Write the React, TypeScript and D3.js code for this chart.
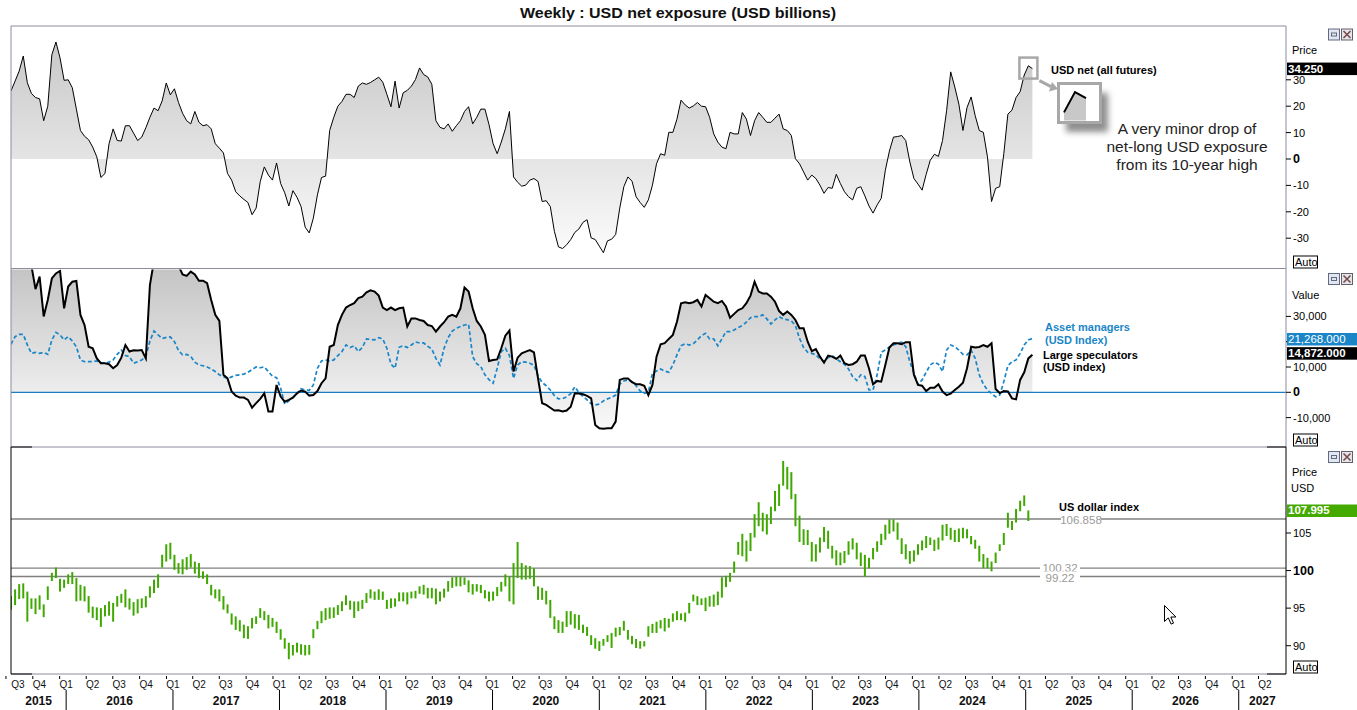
import React from 'react';
import * as d3 from 'd3';

// Bi-weekly observations, first one on 26 Jun 2015
const startDate = new Date(2015, 5, 26);
const endDate = new Date(2027, 5, 12);
const stepDays = 14;

// USD net exposure, all futures (USD billions)
const netFutures = [
  25.8, 29.5, 33.3, 39, 28.9, 24.8, 23.3, 22.8, 14.5, 20,
  39.5, 44.3, 38.3, 29.8, 30, 27, 18.9, 10.8, 8.6, 7.3,
  4.5, 0.8, -7, -5.5, 5.8, 11.4, 7, 6.8, 12.6, 12.6,
  9.8, 7, 8.3, 11.8, 15.8, 19.3, 18.3, 22, 28.8, 24.3,
  26.6, 21.4, 17.3, 14.5, 13.3, 18, 13.9, 12.6, 13, 11.4,
  5.8, 4.1, 2.3, -5.5, -8, -12.4, -14, -15.3, -16.5, -21.1,
  -18.6, -8.6, -3, -6.1, -8, -1.5, -9.3, -12.8, -17.8, -12,
  -14.5, -18, -25.8, -28, -22.4, -13.6, -7, -6.5, 10.8, 15.8,
  20, 21.8, 24.5, 24.5, 23.3, 27.6, 28.8, 28.3, 29, 30,
  31, 29.1, 24.5, 19.8, 29.5, 19.3, 25.1, 26, 27.6, 30.1,
  34.5, 32, 31.1, 28.3, 14.5, 12, 11.4, 13.3, 10.5, 12.6,
  14.5, 18, 19.8, 13.3, 15.8, 18.9, 18.9, 13, 5.8, 2,
  6.4, 11.4, 18, -6.8, -8.8, -10.3, -9.9, -8, -7.4, -8.5,
  -16.1, -15.8, -18, -27.4, -33.3, -33.9, -32.5, -30.5, -27.8, -26.5,
  -24, -23, -29.9, -30.5, -33, -35.5, -31, -30.4, -28.6, -18.6,
  -10.5, -6.8, -8.4, -14.3, -16.5, -18.3, -15.5, -9.9, -1.8, 2,
  1.4, 10.1, 10.1, 15.1, 22.3, 20.5, 19.3, 20.1, 21.4, 20,
  19.8, 15.8, 9.5, 6.4, 4.5, 3.9, 10.1, 9.5, 9.5, 17.6,
  15.1, 8.9, 14.5, 17.6, 15.8, 13.9, 13.9, 15.5, 17, 11.4,
  10.8, 8.9, 0.1, -1.8, -4.9, -8, -6.1, -7.4, -9.9, -13,
  -10.8, -11.1, -5.8, -9.3, -12.4, -14.3, -15.5, -11.1, -10.5, -14,
  -17.8, -20.5, -17.4, -14.9, -4.3, 3, 8.3, 8.5, 8.9, 7,
  -1.1, -7.4, -9.5, -11.8, -5.8, -0.5, 1.8, 1, 7, 18.3,
  33, 27.3, 20.8, 10.8, 19.5, 23.5, 16.4, 10.8, 10.1, 0.8,
  -16.1, -11.1, -10.5, 2, 17, 18.5, 23.3, 25.5, 31.8, 35.3,
  34.25,
];

// Large speculators, USD index futures (thousand contracts)
const largeSpecs = [
  52, 55, 58, 55, 50, 50, 40.8, 45.7, 30, 36.5,
  45, 47, 48, 33.2, 41.8, 43.7, 44, 30.6, 26.6, 18,
  17.4, 13.4, 11.5, 11.5, 11.1, 9.5, 10.8, 13.7, 18.7, 16.1,
  16.6, 16.5, 16.7, 13.4, 42.4, 52, 55, 58, 60, 58,
  55, 50, 46.6, 46, 47.7, 46.6, 44.1, 44.1, 43.1, 36.5,
  30.6, 28.2, 6.9, 5.5, 0.3, -1.3, -2.1, -2.1, -3, -6.1,
  -4.3, -2.6, -0.4, -7.6, -7.6, 2.9, -1.7, -3.7, -3, -2.1,
  -0.4, 0.7, 0.3, -1.3, -1.1, 0.5, 3.6, 5.5, 18, 18.7,
  26.6, 30.6, 33.5, 34.5, 35.2, 37.2, 37.8, 39.5, 40.3, 39.8,
  38.2, 33.5, 32.5, 33.5, 32.5, 33.2, 33.5, 26, 29.2, 29.2,
  28.6, 28.2, 26.6, 26.2, 24, 26, 27.7, 29.9, 30.6, 29.9,
  33.2, 41.4, 39.8, 33.2, 28.2, 26, 22.7, 12.4, 12.8, 13,
  17.4, 22.4, 24.4, 8.2, 13.7, 15.4, 16.1, 16.7, 15.8, 5.5,
  -4.3, -5, -6.1, -7.2, -7.1, -7.6, -7.2, -5.7, -0.4, -0.5,
  -0.8, -1.4, -2.4, -12.9, -14.2, -14.4, -14.2, -14.2, -11.6, 4.9,
  5.5, 5.5, 4, 3.2, 3.2, 2.6, -1.1, 2.9, 14.1, 19,
  19.4, 21.1, 22.7, 27.9, 35.2, 35.6, 35.2, 35.6, 36.5, 33.9,
  38.5, 37.2, 35.8, 35.2, 36.1, 33.9, 29.5, 31, 32.5, 33.2,
  35.2, 38.2, 43.7, 39.8, 39.1, 39.1, 37.8, 35.8, 32.1, 30.6,
  31.9, 30.6, 28.6, 25.3, 25.3, 20, 16.3, 17.1, 14.1, 11.7,
  14.5, 14.1, 13.2, 14.5, 11.5, 10.8, 11.1, 12.1, 14.5, 14.5,
  9.5, 3.2, 4.5, 4.2, 10.8, 17.7, 19.4, 19.4, 19, 19.8,
  19.8, 6.9, 2.9, 2.6, 0.5, 1.8, 1.8, 3.2, 0.3, -1.1,
  -0.5, 0.9, 2.2, 3.8, 9.5, 18, 17.7, 17.9, 18.7, 18,
  19.4, 1.3, -0.3, 0.5, 0.3, -2.4, -2.8, 4.9, 7.9, 13.4,
  14.872,
];

// Asset managers, USD index futures (thousand contracts)
const assetManagers = [
  19, 22, 22.9, 22.9, 18.7, 15.4, 15.8, 15.4, 15.8, 15,
  20.7, 23.7, 22.7, 20.7, 22, 20.3, 18, 12.8, 12.1, 12.1,
  12.1, 12.4, 11.7, 11.5, 11.9, 12.8, 15, 16.7, 14.5, 14.1,
  11.5, 12.1, 12.8, 14.1, 20.3, 24.2, 22.7, 21.3, 21.7, 21.9,
  20, 16.5, 14.8, 15, 14.1, 11.9, 10.8, 10.5, 10, 9.2,
  8.2, 6.9, 6.2, 5.5, 6.1, 6.7, 6.9, 7.2, 7.9, 9,
  10, 9.7, 10, 8.2, 6.3, 5.8, 1.6, -4.7, -3.4, -2,
  -0.4, 1.4, 0.9, 0.8, 2.9, 9.5, 12.4, 12.8, 12.3, 12.8,
  14.5, 16.1, 18.7, 17.7, 18.4, 16.1, 17.7, 21.1, 20.9, 20.7,
  21.6, 21.1, 17.4, 11.1, 9.5, 17.8, 18.4, 17.7, 18.7, 19.9,
  19.5, 19.5, 18.2, 17.1, 13.4, 10.8, 17.4, 21.6, 24.2, 25.3,
  26, 26.6, 26.9, 14.1, 11.3, 10.1, 6.9, 5, 3.6, 9.5,
  16.1, 17.4, 14.5, 5.5, 10.8, 12.1, 11.9, 11.5, 10.7, 6.5,
  3.9, 2.6, 0.9, -1.3, -2.6, -2.5, -1.8, -0.5, 2.2, -0.1,
  -1.6, -3, -4.5, -5, -4.7, -3.4, -2.6, -2, -1.1, 3.2,
  4.5, 4.9, 4.2, 2.6, 0.5, -0.4, 0, 7.5, 8.4, 9.2,
  8.4, 7.9, 10.8, 14.8, 18.4, 19.2, 18.7, 19.2, 20.7, 22.4,
  23.3, 21.1, 21.1, 18.4, 21.1, 24, 24, 24.6, 25.6, 26.4,
  27.7, 29.5, 29.9, 29.9, 30.6, 29, 27, 28.6, 29.9, 29,
  28.7, 28.2, 26.4, 21.3, 17.7, 15.8, 15.4, 14.8, 13.2, 12.3,
  13.7, 14.5, 13.2, 12.1, 11.1, 9.2, 6.2, 4.7, 6.9, 6.2,
  0.9, 0.9, 6.9, 15.8, 16.7, 17.9, 18.7, 19.4, 19.8, 18,
  12.1, 7.5, 3.2, 4.9, 7.9, 10.8, 11.9, 11.1, 8.2, 16.7,
  18.7, 18, 16.7, 15, 14.8, 16.7, 13.4, 6.9, 3.2, 0.9,
  -0.5, -1.8, -1.1, 4.2, 10.5, 12.1, 12.8, 15.4, 18.7, 20.7,
  21.268,
];

// US dollar index, bi-weekly high / low
const dxyHigh = [
  96.6, 97.5, 98.2, 98.3, 97.2, 96.3, 96.3, 96.7, 95.5, 97.9,
  99.7, 100.4, 98.9, 98.8, 99.5, 99.8, 99, 98.1, 97.9, 96.6,
  95.2, 95.1, 95, 95.4, 95.9, 95.7, 96.6, 96.9, 97.5, 96.3,
  95.8, 96.2, 96.3, 96.6, 97.9, 98.8, 99.5, 102.1, 103.5, 103.7,
  102.1, 101, 101.5, 101.8, 102.2, 101.2, 101, 99.9, 99.5, 98.1,
  97.5, 97.5, 96.6, 95.5, 94.3, 93.9, 93.4, 92.8, 92.6, 93.7,
  93.9, 95, 94.6, 94.1, 93.7, 93.2, 92.2, 91, 90.4, 90.1,
  90.4, 90.2, 90.1, 90.1, 92.2, 93.3, 94.6, 95, 95.1, 95.1,
  95.4, 95.9, 96.7, 96, 95.9, 95.9, 96.1, 97, 97.5, 97.2,
  97.5, 97.2, 96.1, 96.3, 96.3, 97.1, 97.1, 97.1, 97.2, 97.3,
  97.9, 98.1, 97.7, 97.7, 97.6, 97.2, 97.6, 98.6, 99.1, 99.2,
  99.2, 99.1, 98.7, 98.2, 98.2, 98.1, 97.4, 97.2, 97.2, 97.8,
  98.5, 99.5, 99.2, 101, 103.8, 101, 100.7, 100.6, 100.3, 97.9,
  97.7, 97.3, 96.1, 93.9, 93.4, 93.2, 94.6, 94.6, 94.2, 94.1,
  92.8, 92.5, 91.4, 91, 90.6, 90.9, 91.4, 91.7, 92.4, 92.5,
  93.3, 92.1, 91.3, 90.9, 90.6, 90.6, 92.6, 92.9, 93.2, 93.4,
  93.7, 93.6, 94.3, 94.6, 94.3, 94.4, 95.7, 96.8, 96.6, 96.3,
  96.4, 96.6, 96.8, 97.2, 99.1, 99.3, 99.7, 101.2, 103.8, 104.9,
  104, 105, 107.5, 109.1, 107.7, 107.5, 108.5, 110.6, 111.5, 114.6,
  113.8, 113.1, 110.2, 107.3, 105.5, 105.4, 103.8, 103.5, 104.4, 105.8,
  105.3, 103.3, 102.7, 102.4, 102.6, 103.9, 104.3, 103.7, 102.4, 102.1,
  101.7, 103, 103.9, 104.9, 106.1, 106.8, 106.8, 106.4, 104.3, 103.5,
  102.6, 102.7, 103.5, 104, 104.6, 104.4, 104.1, 104.4, 106.1, 106.2,
  105.7, 105.4, 105.6, 105.7, 105.5, 104.6, 104.1, 103.3, 102.2, 101.7,
  101.2, 102.4, 103.5, 105, 107.7, 106.6, 108.2, 109.3, 110, 108,
];

const dxyLow = [
  94.8, 95.4, 96.2, 96.3, 93.2, 94.9, 94.2, 94.8, 93.8, 96.1,
  98.6, 99, 97.2, 97.7, 98.2, 98.2, 95.9, 96, 95.9, 94.4,
  93.7, 93.4, 92.5, 93.9, 94, 93.2, 95.2, 95.7, 95.1, 94.8,
  94, 94.3, 95, 95.1, 96.4, 97, 97.7, 100.4, 101.2, 101.5,
  100.1, 99.6, 99.5, 100.1, 100.4, 99.6, 99, 98.9, 98.2, 96.7,
  96.3, 95.9, 94.8, 94.3, 92.8, 92.1, 91.9, 91, 90.9, 92.3,
  92.9, 93.7, 93.4, 92.3, 92.5, 91.7, 90.8, 89.6, 88.2, 88.7,
  89.1, 88.8, 88.7, 88.8, 91, 92.2, 93, 93.4, 93.6, 93.7,
  94.1, 94.6, 95.4, 94.8, 93.7, 94.6, 94.9, 95.7, 96.3, 96.1,
  96.1, 96.1, 94.9, 95, 95.2, 95.9, 95.9, 95.5, 96.3, 96.3,
  96.9, 96.8, 96.3, 96.3, 95.5, 95.9, 96.4, 97.2, 97.7, 97.9,
  97.9, 98.1, 97.1, 96.8, 97.2, 97, 96.3, 95.9, 96, 96.6,
  97.2, 97.9, 95.9, 95.5, 99, 98.8, 98.8, 98.9, 97.9, 96.1,
  96.1, 95.5, 93.7, 92.2, 91.7, 91.7, 92.5, 92.8, 92.3, 92.1,
  91.7, 91.3, 90.1, 89.6, 89.3, 90, 90.5, 89.7, 91.2, 91.4,
  92, 90.8, 90.2, 89.7, 89.6, 89.9, 91.2, 91.7, 91.7, 92.3,
  91.9, 92.4, 93.2, 93.4, 93.4, 93.2, 94.3, 95.9, 95.4, 95.4,
  94.6, 95.2, 95.2, 95.4, 96.4, 97.8, 98.5, 99.7, 102.1, 101.9,
  101.2, 102.6, 104.4, 105.9, 105.2, 104.8, 106.2, 107.9, 108.6, 111.3,
  110.8, 109.5, 105.9, 103.8, 103.4, 103.4, 101.2, 101.2, 102.4, 103.8,
  102.9, 101.6, 100.7, 100.7, 101, 102.1, 102.8, 101.5, 100.6, 99.2,
  100.3, 101.5, 102.5, 103.4, 104.1, 104.9, 105.2, 104.1, 102.2, 101.5,
  100.9, 101.2, 102.1, 102.7, 103, 103.4, 102.6, 102.8, 104, 104.6,
  104.1, 103.8, 103.8, 104.3, 104.3, 103.5, 102.9, 101.2, 100.3, 100.3,
  99.9, 101, 102.6, 103.4, 105.7, 105.4, 106.4, 107.9, 108.6, 106.6,
];

const dxyLast = 107.995;
const dxyLevels = [106.858, 100.32, 99.22];

const years = [2015, 2016, 2017, 2018, 2019, 2020, 2021, 2022, 2023, 2024, 2025, 2026, 2027];
const quarterNames = ['Q1', 'Q2', 'Q3', 'Q4'];
const netTicks = [30, 20, 10, 0, -10, -20, -30];
const cotTicks = [30, 20, 10, 0, -10];
const dxyTicks = [105, 100, 95, 90];

const W = 1357;
const H = 710;
const LEFT = 11;
const RIGHT = 1286;
const P1 = { top: 26, bottom: 268.5 };
const P2 = { top: 268.5, bottom: 447 };
const P3 = { top: 447, bottom: 674 };

const FONT = "'Liberation Sans', Arial, sans-serif";
const FRAME = '#8c8ca0';
const BLUE = '#1a86c8';
const GREEN = '#3fa800';

const dateAt = (i: number) => d3.timeDay.offset(startDate, i * stepDays);

const x = d3.scaleTime().domain([startDate, endDate]).range([LEFT, RIGHT]);
const yNet = d3.scaleLinear().domain([-30, 30]).range([238.2, 79.8]);
const yCot = d3.scaleLinear().domain([-10, 30]).range([417.6, 316.4]);
const yDxy = d3.scaleLinear().domain([90, 105]).range([645.7, 533.0]);

const fmtCot = (v: number) => d3.format(',')(v * 1000).replace('\u2212', '-');
const fmtBox = (v: number) => d3.format(',.3f')(v);

const PanelIcons: React.FC<{ y: number }> = ({ y }) => (
  <g>
    <rect x={1328.5} y={y + 0.5} width={11} height={11} fill="#e4e6ee" stroke="#5e6a86" />
    <rect x={1331.5} y={y + 4.5} width={5} height={3} fill="none" stroke="#5e6a86" />
    <rect x={1341.5} y={y + 0.5} width={11} height={11} fill="#e4e6ee" stroke="#6a5e66" />
    <path d={`M1343.5,${y + 2.5} L1350.5,${y + 9.5} M1350.5,${y + 2.5} L1343.5,${y + 9.5}`} stroke="#7a4a4a" strokeWidth={1.6} />
  </g>
);

const AutoBox: React.FC<{ y: number }> = ({ y }) => (
  <g>
    <rect x={1293.5} y={y + 0.5} width={24} height={12} fill="#fff" stroke="#000" />
    <text x={1295} y={y + 10.5} fontSize={11} fontFamily={FONT} fill="#000">Auto</text>
  </g>
);

const ValueBox: React.FC<{ y: number; fill: string; label: string; bold?: boolean }> = ({ y, fill, label, bold }) => (
  <g>
    <rect x={1287} y={y - 6} width={W - 1287} height={12.5} fill={fill} />
    <text x={1288} y={y + 4} fontSize={11.5} fontWeight={bold ? 'bold' : 'normal'} fontFamily={FONT} fill="#fff">{label}</text>
  </g>
);

const App: React.FC = () => {
  const lineNet = d3.line<number>().x((_, i) => x(dateAt(i))).y(d => yNet(d));
  const areaNet = d3.area<number>().x((_, i) => x(dateAt(i))).y0(yNet(0)).y1(d => yNet(d));
  const lineCot = d3.line<number>().x((_, i) => x(dateAt(i))).y(d => yCot(d));
  const areaCot = d3.area<number>().x((_, i) => x(dateAt(i))).y0(yCot(0)).y1(d => yCot(d));

  // quarter starts across the visible time range
  const quarters: { d: Date; q: number }[] = [];
  years.forEach(yr => {
    [0, 3, 6, 9].forEach((m, q) => {
      const d = new Date(yr, m, 1);
      if (d >= startDate && d <= endDate) quarters.push({ d, q });
    });
  });
  const yearBounds = years.map(yr => {
    const a = Math.max(x(new Date(yr, 0, 1)), LEFT);
    const b = Math.min(x(new Date(yr + 1, 0, 1)), RIGHT);
    return { yr, a, b };
  });

  // inset that magnifies the final three readings of the top series
  const n = netFutures.length;
  const last = netFutures[n - 1];
  const px = x(dateAt(n - 1));
  const py = yNet(last);
  const tail = netFutures.slice(n - 3);
  const insetX = d3.scaleLinear().domain([0, 2]).range([1064, 1086]);
  const insetY = d3.scaleLinear().domain([31, 36]).range([117, 88]);
  const insetLine = d3.line<number>().x((_, i) => insetX(i)).y(d => insetY(d));
  const insetArea = d3.area<number>().x((_, i) => insetX(i)).y0(122).y1(d => insetY(d));

  const levelLabelX = [1081, 1060, 1060];
  const levelLabelDy = [5, 3.5, 5.5];

  return (
    <svg width={W} height={H} style={{ position: 'absolute', left: 0, top: 0, background: '#fff' }} fontFamily={FONT}>
      <defs>
        <linearGradient id="fillTop" gradientUnits="userSpaceOnUse" x1={0} y1={P1.top} x2={0} y2={P1.bottom}>
          <stop offset="0" stopColor="#c4c4c4" />
          <stop offset="1" stopColor="#ffffff" />
        </linearGradient>
        <linearGradient id="fillMid" gradientUnits="userSpaceOnUse" x1={0} y1={P2.top} x2={0} y2={P2.bottom}>
          <stop offset="0" stopColor="#c4c4c4" />
          <stop offset="1" stopColor="#ffffff" />
        </linearGradient>
        <clipPath id="clipTop"><rect x={LEFT} y={P1.top} width={RIGHT - LEFT} height={P1.bottom - P1.top} /></clipPath>
        <clipPath id="clipMid"><rect x={LEFT} y={P2.top + 1} width={RIGHT - LEFT} height={P2.bottom - P2.top - 1} /></clipPath>
        <clipPath id="clipBot"><rect x={LEFT} y={P3.top} width={RIGHT - LEFT} height={P3.bottom - P3.top} /></clipPath>
        <clipPath id="clipInset"><rect x={1059.5} y={84.5} width={39} height={36} /></clipPath>
        <filter id="soft" x="-50%" y="-50%" width="200%" height="200%">
          <feGaussianBlur stdDeviation={3} />
        </filter>
      </defs>

      <rect x={0} y={0} width={W} height={H} fill="#fff" />

      <text x={678} y={18} textAnchor="middle" fontSize={15} fontWeight="bold" fill="#111" textLength={316} lengthAdjust="spacingAndGlyphs">
        Weekly : USD net exposure (USD billions)
      </text>

      {/* panel 1: USD net exposure */}
      <g clipPath="url(#clipTop)">
        <path d={areaNet(netFutures) || ''} fill="url(#fillTop)" />
        <path d={lineNet(netFutures) || ''} fill="none" stroke="#000" strokeWidth={1} />
      </g>

      {/* panel 2: COT positioning */}
      <g clipPath="url(#clipMid)">
        <path d={areaCot(largeSpecs) || ''} fill="url(#fillMid)" />
        <line x1={LEFT} x2={RIGHT} y1={yCot(0)} y2={yCot(0)} stroke="#1a7fc0" strokeWidth={1.2} />
        <path d={lineCot(assetManagers) || ''} fill="none" stroke={BLUE} strokeWidth={1.7} strokeDasharray="4 2.5" />
        <path d={lineCot(largeSpecs) || ''} fill="none" stroke="#000" strokeWidth={2} />
      </g>

      {/* panel 3: US dollar index */}
      <g clipPath="url(#clipBot)">
        {dxyLevels.map(v => (
          <line key={v} x1={LEFT} x2={RIGHT} y1={yDxy(v)} y2={yDxy(v)} stroke="#808080" strokeWidth={1.4} />
        ))}
        {dxyHigh.map((h, i) => (
          <line key={i} x1={x(dateAt(i))} x2={x(dateAt(i))} y1={yDxy(h)} y2={yDxy(dxyLow[i])} stroke={GREEN} strokeWidth={2} />
        ))}
        {dxyLevels.map((v, k) => (
          <g key={'lbl' + v}>
            <rect x={levelLabelX[k] - 20} y={yDxy(v) - 5} width={40} height={9} fill="#fff" />
            <text x={levelLabelX[k]} y={yDxy(v) + levelLabelDy[k]} textAnchor="middle" fontSize={11.5} fill="#9a9a9a">{v}</text>
          </g>
        ))}
      </g>

      {/* frames */}
      <line x1={LEFT} x2={RIGHT} y1={P1.top} y2={P1.top} stroke={FRAME} />
      <line x1={LEFT} x2={RIGHT} y1={P1.bottom} y2={P1.bottom} stroke={FRAME} />
      <line x1={LEFT} x2={RIGHT} y1={P3.top} y2={P3.top} stroke={FRAME} />
      <line x1={LEFT} x2={RIGHT} y1={P3.bottom} y2={P3.bottom} stroke={FRAME} />
      <line x1={LEFT} x2={LEFT} y1={P1.top} y2={P2.bottom} stroke={FRAME} />
      <line x1={LEFT} x2={LEFT} y1={P3.top} y2={P3.bottom} stroke="#000" />
      <line x1={RIGHT} x2={RIGHT} y1={P1.top} y2={P2.bottom} stroke={FRAME} />
      <line x1={RIGHT} x2={RIGHT} y1={P3.top} y2={P3.bottom} stroke="#000" />
      <line x1={LEFT} x2={32} y1={P3.top} y2={P3.top} stroke="#000" />
      <line x1={LEFT} x2={32} y1={P3.bottom} y2={P3.bottom} stroke="#000" />
      <line x1={1267} x2={RIGHT} y1={P3.top} y2={P3.top} stroke="#000" />
      <line x1={1267} x2={RIGHT} y1={P3.bottom} y2={P3.bottom} stroke="#000" />

      {/* right axis, panel 1 */}
      <text x={1292} y={54} fontSize={11} fill="#000">Price</text>
      {netTicks.map(t => (
        <g key={'n' + t}>
          <line x1={RIGHT} x2={RIGHT + 5} y1={yNet(t)} y2={yNet(t)} stroke="#000" />
          <text x={1293} y={yNet(t) + 4} fontSize={t === 0 ? 12.5 : 11} fontWeight={t === 0 ? 'bold' : 'normal'} fill="#000">{t}</text>
        </g>
      ))}
      <ValueBox y={yNet(last)} fill="#000" label={d3.format('.3f')(last)} bold />
      <AutoBox y={255.5} />
      <PanelIcons y={28.5} />

      {/* right axis, panel 2 (the 20,000 label sits under the value boxes) */}
      <text x={1292} y={299} fontSize={11} fill="#000">Value</text>
      {cotTicks.map(t => (
        <g key={'c' + t}>
          <line x1={RIGHT} x2={RIGHT + 5} y1={yCot(t)} y2={yCot(t)} stroke="#000" />
          {t !== 20 && (
            <text x={1293} y={yCot(t) + 4} fontSize={t === 0 ? 12.5 : 11} fontWeight={t === 0 ? 'bold' : 'normal'} fill="#000">{fmtCot(t)}</text>
          )}
        </g>
      ))}
      <ValueBox y={yCot(assetManagers[n - 1]) + 0.5} fill={BLUE} label={fmtBox(assetManagers[n - 1] * 1000)} />
      <ValueBox y={yCot(largeSpecs[n - 1]) - 1.5} fill="#000" label={fmtBox(largeSpecs[n - 1] * 1000)} bold />
      <AutoBox y={433.5} />
      <PanelIcons y={273} />

      {/* right axis, panel 3 */}
      <text x={1292} y={476} fontSize={11} fill="#000">Price</text>
      <text x={1291} y={492} fontSize={11} fill="#000">USD</text>
      {dxyTicks.map(t => (
        <g key={'d' + t}>
          <line x1={RIGHT} x2={RIGHT + 5} y1={yDxy(t)} y2={yDxy(t)} stroke="#000" />
          <text x={1293} y={yDxy(t) + 4} fontSize={t === 100 ? 12.5 : 11} fontWeight={t === 100 ? 'bold' : 'normal'} fill="#000">{t}</text>
        </g>
      ))}
      <ValueBox y={yDxy(dxyLast)} fill="#44aa00" label={d3.format('.3f')(dxyLast)} bold />
      <AutoBox y={660.5} />
      <PanelIcons y={451} />

      {/* series labels */}
      <text x={1051} y={74} fontSize={11} fontWeight="bold" fill="#000">USD net (all futures)</text>
      <text x={1045} y={331} fontSize={11} fontWeight="bold" fill={BLUE}>Asset managers</text>
      <text x={1045} y={343.5} fontSize={11} fontWeight="bold" fill={BLUE}>(USD Index)</text>
      <text x={1043} y={358.5} fontSize={11} fontWeight="bold" fill="#000">Large speculators</text>
      <text x={1043} y={371} fontSize={11} fontWeight="bold" fill="#000">(USD index)</text>
      <text x={1059} y={511} fontSize={11} fontWeight="bold" fill="#000">US dollar index</text>

      {/* callout on the latest reading */}
      <rect x={px - 13} y={py - 11} width={18} height={21} fill="none" stroke="#a8a8a8" strokeWidth={2.5} />
      <line x1={px + 7} y1={py + 12} x2={1051} y2={py + 18} stroke="#a8a8a8" strokeWidth={3} />
      <path d={`M1058,${py + 20.5} L1049,${py + 23} L1052,${py + 13.5} Z`} fill="#a8a8a8" />
      <rect x={1066} y={93} width={42} height={39} fill="#333" opacity={0.55} filter="url(#soft)" />
      <rect x={1058.5} y={83.5} width={42} height={39} fill="#fff" stroke="#a8a8a8" strokeWidth={3} />
      <g clipPath="url(#clipInset)">
        <path d={insetArea(tail) || ''} fill="#c8c8c8" />
        <path d={insetLine(tail) || ''} fill="none" stroke="#000" strokeWidth={2} />
      </g>
      <g fontSize={15.5} fill="#222" textAnchor="middle">
        <text x={1187} y={134}>A very minor drop of</text>
        <text x={1187} y={152}>net-long USD exposure</text>
        <text x={1187} y={170}>from its 10-year high</text>
      </g>

      {/* time axis */}
      {quarters.map(({ d, q }, k) => {
        const qx = x(d);
        return (
          <g key={'q' + k}>
            <line x1={qx - 6.5} x2={qx - 6.5} y1={676} y2={679} stroke="#000" />
            <text x={Math.max(qx, 18)} y={688} textAnchor="middle" fontSize={10} fill="#111">{quarterNames[q]}</text>
          </g>
        );
      })}
      {yearBounds.map(({ yr, a, b }) => (
        <g key={'y' + yr}>
          {yr > years[0] && <line x1={a} x2={a} y1={690} y2={710} stroke="#000" />}
          <text x={(a + b) / 2} y={705} textAnchor="middle" fontSize={12} fontWeight="bold" fill="#111">{yr}</text>
        </g>
      ))}

      {/* mouse pointer */}
      <path transform="translate(1164.5,605.5)" d="M0,0 L0,16 L3.8,12.4 L6.6,18.6 L9,17.6 L6.3,11.5 L11.4,11.5 Z" fill="#fff" stroke="#000" strokeWidth={1} />
    </svg>
  );
};

export default App;
